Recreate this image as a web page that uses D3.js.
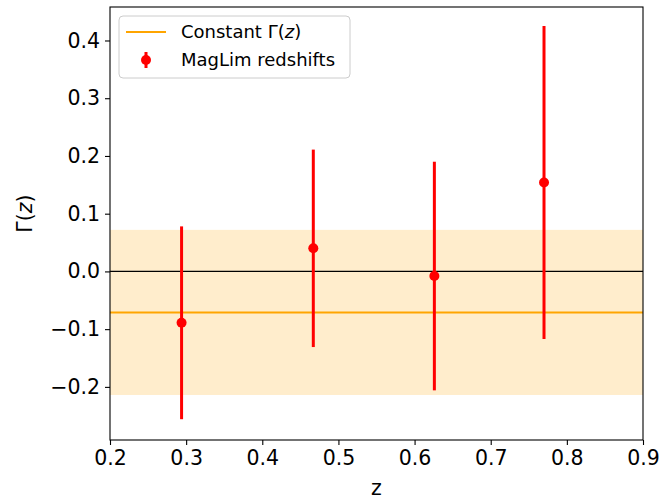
<!DOCTYPE html>
<html>
<head>
<meta charset="utf-8">
<script src="https://cdn.jsdelivr.net/npm/d3@7"></script>
<style>
    body { margin: 0; background: #fff; }
    svg { font-family: "DejaVu Sans", sans-serif; }
</style>
</head>
<body>
<div id="chart"></div>
<script>
// data
const redshifts = [0.294, 0.467, 0.626, 0.770];
const gammaValues = [-0.089, 0.040, -0.008, 0.154];
const gammaErrors = [0.167, 0.171, 0.198, 0.271];
const constantGamma = -0.071;
const constantSigma = 0.143;
const xTicks = [0.2, 0.3, 0.4, 0.5, 0.6, 0.7, 0.8, 0.9];
const yTicks = [-0.2, -0.1, 0.0, 0.1, 0.2, 0.3, 0.4];

var margin = { top: 7, right: 19, bottom: 60, left: 110 },
    width = 662 - margin.left - margin.right,
    height = 500 - margin.top - margin.bottom;

var svg = d3.select("#chart")
    .append("svg")
    .attr("width", 662)
    .attr("height", 500)
    .append("g")
    .attr("transform", "translate(" + margin.left + "," + margin.top + ")");

var x = d3.scaleLinear().domain([0.2, 0.9]).range([0, width]);
var y = d3.scaleLinear().domain([-0.292, 0.458]).range([height, 0]);

// shaded 1-sigma band
svg.append("rect")
    .attr("x", 0)
    .attr("width", width)
    .attr("y", y(constantGamma + constantSigma))
    .attr("height", y(constantGamma - constantSigma) - y(constantGamma + constantSigma))
    .style("fill", "#ffedcc");

// zero line
svg.append("line")
    .attr("x1", 0).attr("x2", width)
    .attr("y1", y(0)).attr("y2", y(0))
    .style("stroke", "#000").style("stroke-width", 1.4);

// constant line
svg.append("line")
    .attr("x1", 0).attr("x2", width)
    .attr("y1", y(constantGamma)).attr("y2", y(constantGamma))
    .style("stroke", "#ffa500").style("stroke-width", 2);

var points = redshifts.map((z, i) => ({ z: z, g: gammaValues[i], e: gammaErrors[i] }));

// error bars
svg.selectAll(".err")
    .data(points)
    .enter()
    .append("line")
    .attr("class", "err")
    .attr("x1", d => x(d.z)).attr("x2", d => x(d.z))
    .attr("y1", d => y(d.g - d.e)).attr("y2", d => y(d.g + d.e))
    .style("stroke", "#ff0000").style("stroke-width", 3);

svg.selectAll(".pt")
    .data(points)
    .enter()
    .append("circle")
    .attr("class", "pt")
    .attr("cx", d => x(d.z)).attr("cy", d => y(d.g))
    .attr("r", 5)
    .style("fill", "#ff0000");

// axes
var xAxis = svg.append("g")
    .attr("transform", "translate(0," + height + ")")
    .call(d3.axisBottom(x).tickValues(xTicks).tickFormat(d3.format(".1f")).tickSizeOuter(0).tickSize(5).tickPadding(5));
var yAxis = svg.append("g")
    .call(d3.axisLeft(y).tickValues(yTicks).tickFormat(d3.format(".1f")).tickSizeOuter(0).tickSize(5).tickPadding(5));

[xAxis, yAxis].forEach(a => {
    a.select(".domain").remove();
    a.selectAll("text").style("font-size", "20.5px").style("fill", "#000")
        .style("font-family", "DejaVu Sans, sans-serif");
    a.selectAll("line").style("stroke", "#000").style("stroke-width", 1.1);
});

// frame
svg.append("rect")
    .attr("width", width).attr("height", height)
    .style("fill", "none").style("stroke", "#000").style("stroke-width", 1.1);

// axis titles
svg.append("text")
    .attr("x", width / 2)
    .attr("y", height + 55)
    .style("text-anchor", "middle")
    .style("font-size", "20.5px")
    .text("z");

svg.append("text")
    .attr("transform", "rotate(-90)")
    .attr("x", -y(0.1))
    .attr("y", -78)
    .style("text-anchor", "middle")
    .style("font-size", "20.5px")
    .html('Γ(<tspan font-style="italic">z</tspan>)');

// legend
var legend = svg.append("g").attr("transform", "translate(9,9)");
legend.append("rect")
    .attr("width", 231).attr("height", 62).attr("rx", 4)
    .style("fill", "#fff").style("fill-opacity", 0.8)
    .style("stroke", "#ccc");
legend.append("line")
    .attr("x1", 7).attr("x2", 47).attr("y1", 16).attr("y2", 16)
    .style("stroke", "#ffa500").style("stroke-width", 2);
legend.append("text")
    .attr("x", 62).attr("y", 22)
    .style("font-size", "18px")
    .html('Constant Γ(<tspan font-style="italic">z</tspan>)');
legend.append("line")
    .attr("x1", 27).attr("x2", 27).attr("y1", 36).attr("y2", 52)
    .style("stroke", "#ff0000").style("stroke-width", 3);
legend.append("circle")
    .attr("cx", 27).attr("cy", 44).attr("r", 5)
    .style("fill", "#ff0000");
legend.append("text")
    .attr("x", 62).attr("y", 50)
    .style("font-size", "18px")
    .text("MagLim redshifts");
</script>
</body>
</html>
